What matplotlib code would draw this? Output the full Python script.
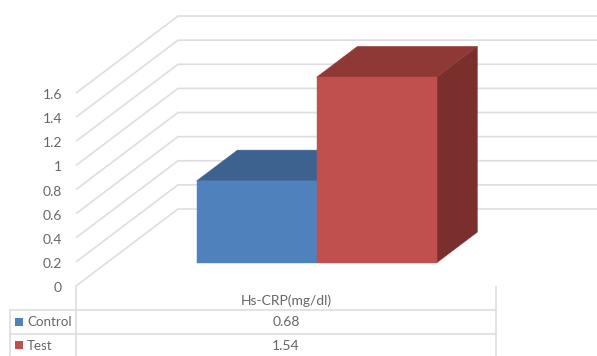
"""Excel style oblique 3D column chart with a data table underneath."""
import matplotlib
matplotlib.use("Agg")
import matplotlib.pyplot as plt

SERIES = ["Control", "Test"]
VALUES = [0.68, 1.54]
CATEGORY = "Hs-CRP(mg/dl)"
TICKS = [0, 0.2, 0.4, 0.6, 0.8, 1, 1.2, 1.4, 1.6]

FRONT = ["#4f81bd", "#c0504d"]
TOP = ["#3d628f", "#8f3937"]
SIDE = ["#345579", "#7b2f2d"]
GRID = "#dedede"
TEXT = "#666666"

W, H = 597, 356
Y0 = 286.0       # pixel row of value 0 on the front edge
PX_PER_UNIT = 120.6
BAR_W = 120.0    # px per bar width, floor is 3.5 bars wide (gap 150%)
X0 = 76.0
DX, DY = 102.0, 77.0   # oblique shift of the full depth, in px


def proj(x, v, d):
    """x in bar widths, v in chart value, d in 0..1 depth -> axes coords"""
    return X0 + BAR_W * x + DX * d, v + DY * d / PX_PER_UNIT


def poly(ax, pts, color, z):
    xy = [proj(*p) for p in pts]
    ax.fill([p[0] for p in xy], [p[1] for p in xy], color=color, lw=0.3, zorder=z)


plt.rcParams["font.family"] = ["Lato", "DejaVu Sans"]
fig = plt.figure(figsize=(W / 100, H / 100), dpi=100)
ax = fig.add_axes([0, 0, 1, 1])
ax.set_xlim(0, W)
ax.set_ylim((Y0 - H) / PX_PER_UNIT, Y0 / PX_PER_UNIT)
ax.axis("off")

# gridlines: diagonal on the side wall, then flat along the back wall
for t in TICKS:
    xs, ys = zip(proj(0, t, 0), proj(0, t, 1), proj(3.5, t, 1))
    ax.plot(xs, ys, color=GRID, lw=1.2, zorder=1, solid_capstyle="butt")
    ax.text(62, t - 2 / PX_PER_UNIT, f"{t:g}", ha="right", va="center",
            fontsize=10, color=TEXT)

# columns
d0, d1 = 0.3, 0.7
for i, v in enumerate(VALUES):
    x0, x1 = 0.75 + i, 1.75 + i
    z = 2 + i
    poly(ax, [(x1, 0, d0), (x1, 0, d1), (x1, v, d1), (x1, v, d0)], SIDE[i], z)
    poly(ax, [(x0, v, d0), (x0, v, d1), (x1, v, d1), (x1, v, d0)], TOP[i], z)
    poly(ax, [(x0, 0, d0), (x1, 0, d0), (x1, v, d0), (x0, v, d0)], FRONT[i], z + 0.5)

# data table, placed in pixel rows below the chart
def row(px):
    return (Y0 - px) / PX_PER_UNIT


xr = proj(3.5, 0, 0)[0]
for py in [310, 333.5]:
    ax.plot([9.5, xr], [row(py), row(py)], color=GRID, lw=1.2, zorder=1)
ax.plot([X0, X0], [row(286), row(356)], color=GRID, lw=1.2, zorder=1)
ax.plot([xr, xr], [row(287), row(356)], color=GRID, lw=1.2, zorder=1)
ax.plot([9.5, 9.5], [row(310), row(356)], color=GRID, lw=1.2, zorder=1)

ax.text((X0 + xr) / 2, row(301), CATEGORY, ha="center", va="center",
        fontsize=10, color=TEXT)
for name, v, c, py in zip(SERIES, VALUES, FRONT, [321.5, 345]):
    ax.fill([15, 23, 23, 15],
            [row(py - 4), row(py - 4), row(py + 4), row(py + 4)], color=c, lw=0)
    ax.text(27, row(py + 1), name, ha="left", va="center", fontsize=9.6, color=TEXT)
    ax.text((X0 + xr) / 2, row(py + 1), f"{v:.2f}", ha="center", va="center",
            fontsize=10, color=TEXT)

fig.savefig("out.png", dpi=100)
